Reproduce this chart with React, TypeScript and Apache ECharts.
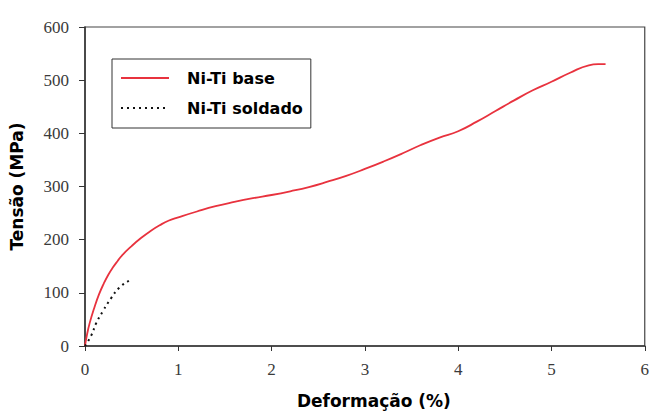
import React, { useEffect, useRef } from "react";
import * as echarts from "echarts";

const baseStrain = [0, 0.02, 0.05, 0.1, 0.15, 0.2, 0.25, 0.3, 0.35, 0.4, 0.5, 0.6, 0.7, 0.8, 0.9, 1.0, 1.2, 1.4, 1.6, 1.8, 2.0, 2.2, 2.4, 2.6, 2.8, 3.0, 3.2, 3.4, 3.6, 3.8, 4.0, 4.2, 4.4, 4.6, 4.8, 5.0, 5.2, 5.4, 5.5, 5.58];
const baseStress = [0, 20, 43, 72, 97, 117, 134, 148, 160, 171, 188, 203, 216, 227, 236, 242, 253, 263, 271, 278, 284, 291, 299, 309, 320, 333, 347, 362, 378, 392, 404, 422, 442, 462, 481, 497, 514, 528, 530, 530];

const weldStrain = [0, 0.07, 0.12, 0.19, 0.28, 0.37, 0.48, 0.5];
const weldStress = [0, 21, 43, 65, 90, 110, 124, 126];

const seriesNames = ["Ni-Ti base", "Ni-Ti soldado"];

export default function App() {
  const ref = useRef<HTMLDivElement>(null);
  useEffect(() => {
    if (!ref.current) return;
    const chart = echarts.init(ref.current, undefined, { renderer: "svg" });
    chart.setOption({
      animation: false,
      backgroundColor: "#fff",
      grid: { left: 85, right: 5, top: 27, bottom: 66, show: true, borderColor: "#444", borderWidth: 1.2, backgroundColor: "transparent" },
      legend: {
        left: 112,
        top: 59,
        orient: "vertical",
        padding: [11, 8, 12, 8],
        itemWidth: 48,
        itemHeight: 14,
        itemGap: 14,
        borderColor: "#333",
        borderWidth: 1,
        backgroundColor: "#fff",
        itemStyle: { opacity: 0 },
        textStyle: { fontFamily: "DejaVu Sans", fontWeight: "bold", fontSize: 16, color: "#000", padding: [0, 0, 0, 13] },
        data: seriesNames,
      },
      xAxis: {
        type: "value",
        min: 0,
        max: 6,
        interval: 1,
        name: "Deformação (%)",
        nameLocation: "middle",
        nameGap: 46,
        nameTextStyle: { fontFamily: "DejaVu Sans", fontWeight: "bold", fontSize: 17, color: "#000", padding: [0, 0, 0, 18] },
        axisLine: { lineStyle: { color: "#333", width: 1.5 } },
        axisTick: { show: true, length: 5, lineStyle: { color: "#333" } },
        axisLabel: { fontFamily: "Liberation Serif", fontSize: 17, color: "#3a3a3a", margin: 15 },
        splitLine: { show: false },
      },
      yAxis: {
        type: "value",
        min: 0,
        max: 600,
        interval: 100,
        name: "Tensão (MPa)",
        nameLocation: "middle",
        nameGap: 60,
        nameTextStyle: { fontFamily: "DejaVu Sans", fontWeight: "bold", fontSize: 17, color: "#000" },
        axisLine: { lineStyle: { color: "#333", width: 1.5 } },
        axisTick: { show: true, length: 6, lineStyle: { color: "#333" } },
        axisLabel: { fontFamily: "Liberation Serif", fontSize: 17, color: "#3a3a3a", margin: 16 },
        splitLine: { show: false },
      },
      series: [
        {
          name: seriesNames[0],
          type: "line",
          symbol: "none",
          smooth: true,
          data: baseStrain.map((x, i) => [x, baseStress[i]]),
          lineStyle: { color: "#e8323e", width: 1.8 },
          itemStyle: { color: "#e8323e" },
        },
        {
          name: seriesNames[1],
          type: "line",
          symbol: "none",
          smooth: true,
          data: weldStrain.map((x, i) => [x, weldStress[i]]),
          lineStyle: { color: "#111", width: 2, type: [2, 4] },
          itemStyle: { color: "#111" },
        },
      ],
    });
    return () => chart.dispose();
  }, []);
  return <div ref={ref} style={{ width: 652, height: 414, position: "absolute", left: 0, top: 0 }} />;
}
